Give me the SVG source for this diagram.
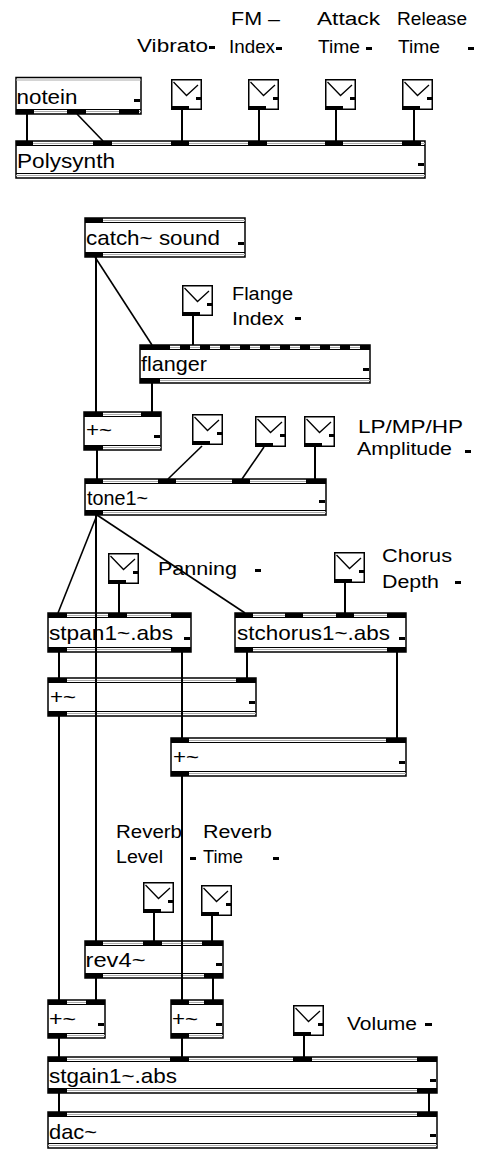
<svg xmlns="http://www.w3.org/2000/svg" xmlns:xlink="http://www.w3.org/1999/xlink" width="477" height="1151" viewBox="0 0 477 1151">
<style>
.bx{fill:#fff;stroke:#000;stroke-width:1.5}
.il{stroke:#000;stroke-width:1;fill:none}
.gl{stroke:#aaa;stroke-width:1;fill:none}
.pt{fill:#000}
.t{font-family:"Liberation Sans","DejaVu Sans",sans-serif;font-size:21px;fill:#000}
.c{font-family:"Liberation Sans","DejaVu Sans",sans-serif;font-size:18px;fill:#000}
.w{stroke:#000;stroke-width:2;fill:none}
.d{stroke:#000;stroke-width:1.6;fill:none}
</style>
<defs>
<g id="sld">
<rect x="0.75" y="0.75" width="29.5" height="29.5" fill="#fff" stroke="#000" stroke-width="1.5"/>
<polyline points="2.5,3 15.5,16.5 27,6" fill="none" stroke="#000" stroke-width="1.3"/>
<rect x="25" y="18" width="5" height="3" fill="#000"/>
<rect x="0" y="27" width="18" height="4" fill="#000"/>
</g>
</defs>
<rect width="477" height="1151" fill="#fff"/>

<g id="comments">
<text class="c" x="137" y="52" textLength="71" lengthAdjust="spacingAndGlyphs">Vibrato</text>
<rect class="pt" x="209" y="46" width="6" height="3"/>
<text class="c" x="231" y="25" textLength="49" lengthAdjust="spacingAndGlyphs">FM –</text>
<text class="c" x="229" y="53" textLength="46" lengthAdjust="spacingAndGlyphs">Index</text>
<rect class="pt" x="276" y="47" width="6" height="3"/>
<text class="c" x="317" y="25" textLength="63" lengthAdjust="spacingAndGlyphs">Attack</text>
<text class="c" x="318" y="53" textLength="42" lengthAdjust="spacingAndGlyphs">Time</text>
<rect class="pt" x="366" y="47" width="6" height="3"/>
<text class="c" x="397" y="25" textLength="70" lengthAdjust="spacingAndGlyphs">Release</text>
<text class="c" x="398" y="53" textLength="42" lengthAdjust="spacingAndGlyphs">Time</text>
<rect class="pt" x="468" y="47" width="6" height="3"/>
<text class="c" x="232" y="300" textLength="61" lengthAdjust="spacingAndGlyphs">Flange</text>
<text class="c" x="232" y="325" textLength="52" lengthAdjust="spacingAndGlyphs">Index</text>
<rect class="pt" x="295" y="317" width="6" height="3"/>
<text class="c" x="358" y="433" textLength="105" lengthAdjust="spacingAndGlyphs">LP/MP/HP</text>
<text class="c" x="357" y="455" textLength="95" lengthAdjust="spacingAndGlyphs">Amplitude</text>
<rect class="pt" x="465" y="450" width="6" height="3"/>
<text class="c" x="158" y="575" textLength="79" lengthAdjust="spacingAndGlyphs">Panning</text>
<rect class="pt" x="255" y="569" width="6" height="3"/>
<text class="c" x="382" y="562" textLength="70" lengthAdjust="spacingAndGlyphs">Chorus</text>
<text class="c" x="382" y="588" textLength="57" lengthAdjust="spacingAndGlyphs">Depth</text>
<rect class="pt" x="455" y="581" width="6" height="3"/>
<text class="c" x="116" y="838" textLength="66" lengthAdjust="spacingAndGlyphs">Reverb</text>
<text class="c" x="116" y="863" textLength="47" lengthAdjust="spacingAndGlyphs">Level</text>
<rect class="pt" x="190" y="857" width="6" height="3"/>
<text class="c" x="203" y="838" textLength="69" lengthAdjust="spacingAndGlyphs">Reverb</text>
<text class="c" x="203" y="863" textLength="40" lengthAdjust="spacingAndGlyphs">Time</text>
<rect class="pt" x="273" y="857" width="6" height="3"/>
<text class="c" x="347" y="1030" textLength="70" lengthAdjust="spacingAndGlyphs">Volume</text>
<rect class="pt" x="425" y="1023" width="7" height="3"/>
</g>

<g id="notein">
<rect class="bx" x="16" y="77.5" width="125" height="36.5"/>
<path class="gl" d="M16 80H141M16 111.5H141"/>
<path class="il" d="M16 109.5H141"/>
<rect class="pt" x="16" y="109.5" width="18" height="4.5"/>
<rect class="pt" x="67" y="109.5" width="19" height="4.5"/>
<rect class="pt" x="119" y="109.5" width="20" height="4.5"/>
<rect class="pt" x="134" y="99" width="6" height="3"/>
<text class="t" x="16.5" y="104" textLength="61" lengthAdjust="spacingAndGlyphs">notein</text>
</g>

<g id="polysynth">
<rect class="bx" x="16" y="141" width="409" height="37"/>
<path class="gl" d="M16 143.5H425M16 175.5H425"/>
<path class="il" d="M16 145.5H425M16 173.5H425"/>
<rect class="pt" x="16" y="141" width="17" height="4.5"/>
<rect class="pt" x="93" y="141" width="19" height="4.5"/>
<rect class="pt" x="171" y="141" width="18" height="4.5"/>
<rect class="pt" x="248" y="141" width="19" height="4.5"/>
<rect class="pt" x="325" y="141" width="18" height="4.5"/>
<rect class="pt" x="402" y="141" width="19" height="4.5"/>
<rect class="pt" x="418" y="163" width="6" height="3"/>
<text class="t" x="17" y="168" textLength="98" lengthAdjust="spacingAndGlyphs">Polysynth</text>
</g>

<g id="sl-vibrato"><use xlink:href="#sld" x="171" y="79"/></g>
<g id="sl-fm"><use xlink:href="#sld" x="248" y="79"/></g>
<g id="sl-attack"><use xlink:href="#sld" x="325" y="79"/></g>
<g id="sl-release"><use xlink:href="#sld" x="402" y="79"/></g>

<g id="catch">
<rect class="bx" x="85" y="218" width="160" height="39"/>
<path class="gl" d="M85 220.5H245M85 254.5H245"/>
<path class="il" d="M85 222.5H245M85 252.5H245"/>
<rect class="pt" x="85" y="218" width="18" height="4.5"/>
<rect class="pt" x="85" y="252.5" width="18" height="4.5"/>
<rect class="pt" x="238" y="242" width="6" height="3"/>
<text class="t" x="86" y="245" textLength="134" lengthAdjust="spacingAndGlyphs">catch~ sound</text>
</g>

<g id="sl-flange"><use xlink:href="#sld" x="182" y="285"/></g>

<g id="flanger">
<rect class="bx" x="140" y="345" width="230" height="38"/>
<path class="gl" d="M140 347.5H370M140 380.5H370"/>
<path class="il" d="M140 349.5H370M140 378.5H370"/>
<line x1="140" y1="347.25" x2="370" y2="347.25" stroke="#000" stroke-width="4.5" stroke-dasharray="10 10"/>
<rect class="pt" x="140" y="345" width="20" height="4.5"/>
<rect class="pt" x="140" y="378.5" width="20" height="4.5"/>
<rect class="pt" x="363" y="368" width="6" height="3"/>
<text class="t" x="141" y="371" textLength="66" lengthAdjust="spacingAndGlyphs">flanger</text>
</g>

<g id="plus1">
<rect class="bx" x="84" y="412" width="77" height="38"/>
<path class="gl" d="M84 414.5H161M84 447.5H161"/>
<path class="il" d="M84 416.5H161M84 445.5H161"/>
<rect class="pt" x="84" y="412" width="19" height="4.5"/>
<rect class="pt" x="141" y="412" width="20" height="4.5"/>
<rect class="pt" x="84" y="445.5" width="19" height="4.5"/>
<rect class="pt" x="154" y="435" width="6" height="3"/>
<text class="t" x="86" y="437" textLength="26" lengthAdjust="spacingAndGlyphs">+~</text>
</g>

<g id="sl-lp"><use xlink:href="#sld" x="192" y="414"/></g>
<g id="sl-mp"><use xlink:href="#sld" x="255" y="416"/></g>
<g id="sl-hp"><use xlink:href="#sld" x="304" y="416"/></g>

<g id="tone1">
<rect class="bx" x="85" y="479" width="241" height="36"/>
<path class="gl" d="M85 481.5H326M85 512.5H326"/>
<path class="il" d="M85 483.5H326M85 510.5H326"/>
<rect class="pt" x="85" y="479" width="18" height="4.5"/>
<rect class="pt" x="158" y="479" width="18" height="4.5"/>
<rect class="pt" x="232" y="479" width="18" height="4.5"/>
<rect class="pt" x="306" y="479" width="20" height="4.5"/>
<rect class="pt" x="85" y="510.5" width="18" height="4.5"/>
<rect class="pt" x="319" y="500" width="6" height="3"/>
<text class="t" x="87" y="505" textLength="61" lengthAdjust="spacingAndGlyphs">tone1~</text>
</g>

<g id="sl-panning"><use xlink:href="#sld" x="108" y="553"/></g>
<g id="sl-chorus"><use xlink:href="#sld" x="334" y="552"/></g>

<g id="stpan">
<rect class="bx" x="48" y="613" width="143" height="39"/>
<path class="gl" d="M48 615.5H191M48 649.5H191"/>
<path class="il" d="M48 617.5H191M48 647.5H191"/>
<rect class="pt" x="48" y="613" width="19" height="4.5"/>
<rect class="pt" x="108" y="613" width="19" height="4.5"/>
<rect class="pt" x="171" y="613" width="20" height="4.5"/>
<rect class="pt" x="48" y="647.5" width="19" height="4.5"/>
<rect class="pt" x="171" y="647.5" width="20" height="4.5"/>
<rect class="pt" x="184" y="637" width="6" height="3"/>
<text class="t" x="49" y="640" textLength="124" lengthAdjust="spacingAndGlyphs">stpan1~.abs</text>
</g>

<g id="stchorus">
<rect class="bx" x="235" y="613" width="171" height="39"/>
<path class="gl" d="M235 615.5H406M235 649.5H406"/>
<path class="il" d="M235 617.5H406M235 647.5H406"/>
<rect class="pt" x="235" y="613" width="18" height="4.5"/>
<rect class="pt" x="285" y="613" width="18" height="4.5"/>
<rect class="pt" x="336" y="613" width="18" height="4.5"/>
<rect class="pt" x="387" y="613" width="19" height="4.5"/>
<rect class="pt" x="235" y="647.5" width="18" height="4.5"/>
<rect class="pt" x="387" y="647.5" width="19" height="4.5"/>
<rect class="pt" x="399" y="637" width="6" height="3"/>
<text class="t" x="237" y="640" textLength="153" lengthAdjust="spacingAndGlyphs">stchorus1~.abs</text>
</g>

<g id="plusA">
<rect class="bx" x="48" y="678" width="208" height="38"/>
<path class="gl" d="M48 680.5H256M48 713.5H256"/>
<path class="il" d="M48 682.5H256M48 711.5H256"/>
<rect class="pt" x="48" y="678" width="19" height="4.5"/>
<rect class="pt" x="236" y="678" width="20" height="4.5"/>
<rect class="pt" x="48" y="711.5" width="19" height="4.5"/>
<rect class="pt" x="249" y="701" width="6" height="3"/>
<text class="t" x="50" y="704" textLength="26" lengthAdjust="spacingAndGlyphs">+~</text>
</g>

<g id="plusB">
<rect class="bx" x="171" y="738" width="235" height="38"/>
<path class="gl" d="M171 740.5H406M171 773.5H406"/>
<path class="il" d="M171 742.5H406M171 771.5H406"/>
<rect class="pt" x="171" y="738" width="18" height="4.5"/>
<rect class="pt" x="386" y="738" width="20" height="4.5"/>
<rect class="pt" x="171" y="771.5" width="18" height="4.5"/>
<rect class="pt" x="399" y="761" width="6" height="3"/>
<text class="t" x="173" y="764" textLength="26" lengthAdjust="spacingAndGlyphs">+~</text>
</g>

<g id="sl-revlevel"><use xlink:href="#sld" x="143" y="882"/></g>
<g id="sl-revtime"><use xlink:href="#sld" x="201" y="885"/></g>

<g id="rev4">
<rect class="bx" x="85" y="941" width="138" height="37"/>
<path class="gl" d="M85 943.5H223M85 975.5H223"/>
<path class="il" d="M85 945.5H223M85 973.5H223"/>
<rect class="pt" x="85" y="941" width="18" height="4.5"/>
<rect class="pt" x="143" y="941" width="19" height="4.5"/>
<rect class="pt" x="202" y="941" width="21" height="4.5"/>
<rect class="pt" x="85" y="973.5" width="18" height="4.5"/>
<rect class="pt" x="204" y="973.5" width="19" height="4.5"/>
<rect class="pt" x="216" y="963" width="6" height="3"/>
<text class="t" x="85.5" y="967" textLength="60" lengthAdjust="spacingAndGlyphs">rev4~</text>
</g>

<g id="plusC">
<rect class="bx" x="48" y="1000" width="57" height="38"/>
<path class="gl" d="M48 1002.5H105M48 1035.5H105"/>
<path class="il" d="M48 1004.5H105M48 1033.5H105"/>
<rect class="pt" x="48" y="1000" width="19" height="4.5"/>
<rect class="pt" x="86" y="1000" width="19" height="4.5"/>
<rect class="pt" x="48" y="1033.5" width="19" height="4.5"/>
<rect class="pt" x="98" y="1023" width="6" height="3"/>
<text class="t" x="49" y="1026" textLength="27" lengthAdjust="spacingAndGlyphs">+~</text>
</g>

<g id="plusD">
<rect class="bx" x="171" y="1000" width="52" height="38"/>
<path class="gl" d="M171 1002.5H223M171 1035.5H223"/>
<path class="il" d="M171 1004.5H223M171 1033.5H223"/>
<rect class="pt" x="171" y="1000" width="18" height="4.5"/>
<rect class="pt" x="204" y="1000" width="19" height="4.5"/>
<rect class="pt" x="171" y="1033.5" width="18" height="4.5"/>
<rect class="pt" x="216" y="1023" width="6" height="3"/>
<text class="t" x="172" y="1026" textLength="26" lengthAdjust="spacingAndGlyphs">+~</text>
</g>

<g id="sl-volume"><use xlink:href="#sld" x="293" y="1005"/></g>

<g id="stgain">
<rect class="bx" x="48" y="1057" width="389" height="36"/>
<path class="gl" d="M48 1059.5H437M48 1090.5H437"/>
<path class="il" d="M48 1061.5H437M48 1088.5H437"/>
<rect class="pt" x="48" y="1057" width="19" height="4.5"/>
<rect class="pt" x="170" y="1057" width="19" height="4.5"/>
<rect class="pt" x="293" y="1057" width="19" height="4.5"/>
<rect class="pt" x="417" y="1057" width="20" height="4.5"/>
<rect class="pt" x="48" y="1088.5" width="19" height="4.5"/>
<rect class="pt" x="417" y="1088.5" width="20" height="4.5"/>
<rect class="pt" x="430" y="1079" width="6" height="3"/>
<text class="t" x="49" y="1083" textLength="128" lengthAdjust="spacingAndGlyphs">stgain1~.abs</text>
</g>

<g id="dac">
<rect class="bx" x="48" y="1112" width="389" height="36"/>
<path class="gl" d="M48 1114.5H437M48 1145.5H437"/>
<path class="il" d="M48 1116.5H437M48 1143.5H437"/>
<rect class="pt" x="48" y="1112" width="19" height="4.5"/>
<rect class="pt" x="417" y="1112" width="20" height="4.5"/>
<rect class="pt" x="430" y="1134" width="6" height="3"/>
<text class="t" x="49" y="1139" textLength="48" lengthAdjust="spacingAndGlyphs">dac~</text>
</g>

<g id="connectors">
<path class="w" d="M27 114V141"/>
<path class="d" d="M77 114L103 141"/>
<path class="w" d="M182 110V141"/>
<path class="w" d="M259 110V141"/>
<path class="w" d="M336 110V141"/>
<path class="w" d="M414 110V141"/>
<path class="w" d="M96 257V412"/>
<path class="d" d="M95 257L152 345"/>
<path class="w" d="M193 316V345"/>
<path class="w" d="M152 383V412"/>
<path class="w" d="M97 450V479"/>
<path class="d" d="M202 446L168 479"/>
<path class="d" d="M264 447L242 479"/>
<path class="w" d="M315 447V479"/>
<path class="d" d="M97 515L58 613"/>
<path class="w" d="M96 515V941"/>
<path class="d" d="M97 515L245 613"/>
<path class="w" d="M119 584V613"/>
<path class="w" d="M345 583V613"/>
<path class="w" d="M59 652V678"/>
<path class="w" d="M182 652V738"/>
<path class="w" d="M247 652V678"/>
<path class="w" d="M397 652V738"/>
<path class="w" d="M59 716V1000"/>
<path class="w" d="M182 776V1000"/>
<path class="w" d="M154 913V941"/>
<path class="w" d="M212 916V941"/>
<path class="w" d="M96 978V1000"/>
<path class="w" d="M213 978V1000"/>
<path class="w" d="M59 1038V1057"/>
<path class="w" d="M182 1038V1057"/>
<path class="w" d="M304 1036V1057"/>
<path class="w" d="M59 1093V1112"/>
<path class="w" d="M429 1093V1112"/>
</g>
</svg>
